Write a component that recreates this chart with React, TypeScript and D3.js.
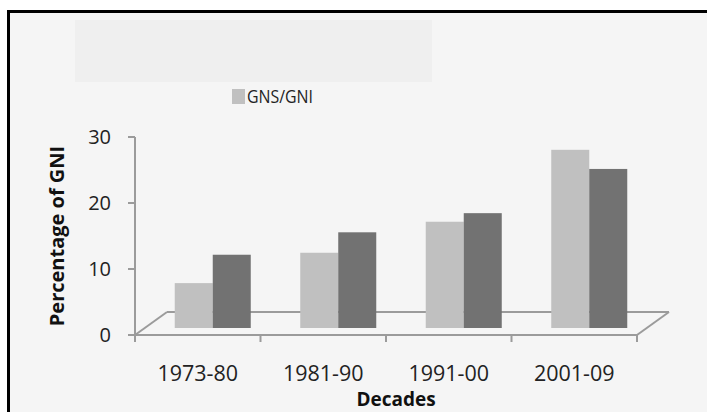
import React from "react";
import * as d3 from "d3";

const categories = ["1973-80", "1981-90", "1991-00", "2001-09"];
const gnsGni = [6.8, 11.4, 16.1, 27.0];
const otherSeries = [11.1, 14.5, 17.4, 24.1];
const yTicks = [0, 10, 20, 30];
const legendLabel = "GNS/GNI";
const yTitle = "Percentage of GNI";
const xTitle = "Decades";

const W = 707;
const H = 412;
const FONT = "'Open Sans', 'Liberation Sans', sans-serif";
const AXIS_COLOR = "#9b9b9b";
const LIGHT = "#c0c0c0";
const DARK = "#727272";

export default function App() {
  const x = d3.scaleBand<string>().domain(categories).range([135, 637]).padding(0);
  const y = d3.scaleLinear().domain([0, 30]).range([335, 137]);
  const bw = x.bandwidth();
  const inner = d3
    .scaleBand<string>()
    .domain(["light", "dark"])
    .range([bw / 2 - 38, bw / 2 + 38])
    .padding(0);
  // 3D depth offsets
  const floorDx = 32;
  const floorDy = -23;
  const barDx = 15;
  const barDy = -7;
  const x0 = x.range()[0];
  const x1 = x.range()[1];
  const yb = y(0);

  const series = [
    { key: "light", values: gnsGni, color: LIGHT },
    { key: "dark", values: otherSeries, color: DARK },
  ];

  return (
    <svg
      width={W}
      height={H}
      style={{ position: "absolute", left: 0, top: 0, background: "#ffffff" }}
    >
      {/* chart area */}
      <rect x={8.5} y={11.5} width={W + 20} height={H + 20} fill="#f5f5f5" stroke="#000" strokeWidth={3} />
      {/* light title box */}
      <rect x={75} y={20} width={357} height={62} fill="#efefef" />

      {/* legend */}
      <rect x={232} y={89} width={13} height={15} fill={LIGHT} />
      <text x={247} y={103} fontFamily={FONT} fontSize={18} textLength={66} lengthAdjust="spacingAndGlyphs" fill="#222">
        {legendLabel}
      </text>

      {/* floor */}
      <g stroke={AXIS_COLOR} strokeWidth={2} fill="none">
        <line x1={x0} y1={yb} x2={x1} y2={yb} />
        <line x1={x0 + floorDx} y1={yb + floorDy} x2={x1 + floorDx} y2={yb + floorDy} />
        <line x1={x0} y1={yb} x2={x0 + floorDx} y2={yb + floorDy} />
        <line x1={x1} y1={yb} x2={x1 + floorDx} y2={yb + floorDy} />
        {/* y axis */}
        <line x1={x0} y1={y(30)} x2={x0} y2={yb + 7} />
        {yTicks.map((t) => (
          <line key={t} x1={x0 - 7} y1={y(t)} x2={x0} y2={y(t)} />
        ))}
        {categories.map((c) => (
          <line key={c} x1={(x(c) ?? 0) + bw} y1={yb} x2={(x(c) ?? 0) + bw} y2={yb + 7} />
        ))}
      </g>

      {/* bars */}
      {series.map((s) =>
        categories.map((c, i) => (
          <rect
            key={s.key + c}
            x={(x(c) ?? 0) + (inner(s.key) ?? 0) + barDx}
            y={y(s.values[i]) + barDy}
            width={inner.bandwidth()}
            height={yb - y(s.values[i])}
            fill={s.color}
          />
        ))
      )}

      {/* y tick labels */}
      {yTicks.map((t) => (
        <text
          key={t}
          x={111}
          y={y(t)}
          dy="0.35em"
          textAnchor="end"
          fontFamily={FONT}
          fontSize={20}
          fill="#222"
        >
          {t}
        </text>
      ))}

      {/* x tick labels */}
      {categories.map((c) => (
        <text
          key={c}
          x={(x(c) ?? 0) + bw / 2}
          y={381}
          textAnchor="middle"
          fontFamily={FONT}
          fontSize={21.5}
          fill="#222"
        >
          {c}
        </text>
      ))}

      {/* axis titles */}
      <text
        transform={`translate(64,236) rotate(-90)`}
        textAnchor="middle"
        fontFamily={FONT}
        fontSize={20}
        fontWeight="bold"
        fill="#111"
      >
        {yTitle}
      </text>
      <text x={396} y={406} textAnchor="middle" fontFamily={FONT} fontSize={19} fontWeight="bold" fill="#111">
        {xTitle}
      </text>
    </svg>
  );
}
